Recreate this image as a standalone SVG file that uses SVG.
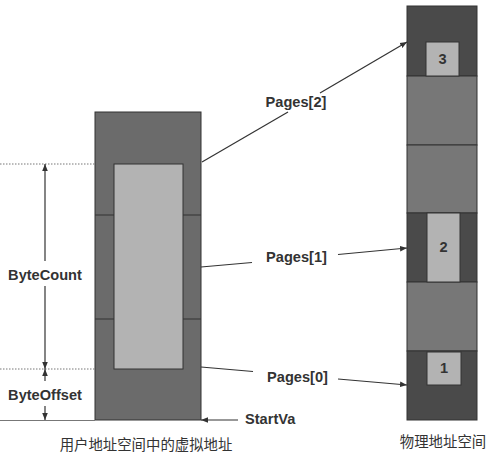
<svg xmlns="http://www.w3.org/2000/svg" width="497" height="460" viewBox="0 0 497 460">
<defs>
<marker id="ah" viewBox="0 0 10 10" refX="10" refY="5" markerWidth="7" markerHeight="7" orient="auto-start-reverse" markerUnits="userSpaceOnUse">
<path d="M0,1 L10,5 L0,9 Z" fill="#333"/>
</marker>
<style>
.lbl{font-family:"Liberation Sans",Arial,sans-serif;font-weight:bold;font-size:14.6px;fill:#333}
.cap{font-family:"Noto Sans CJK SC","Liberation Sans",sans-serif;font-size:14.4px;fill:#333}
.ln{stroke:#333;stroke-width:1.2;fill:none}
.dark{fill:#4a4a4a;stroke:#333;stroke-width:1}
.mid{fill:#777;stroke:#333;stroke-width:1}
.light{fill:#b3b3b3;stroke:#333;stroke-width:1}
.guide{stroke:#777;stroke-width:1;stroke-dasharray:1.5,1.5;fill:none}
</style>
</defs>
<rect width="497" height="460" fill="#fff"/>
<g id="virtual">
<rect x="95" y="112" width="106" height="308" fill="#6b6b6b" stroke="#333" stroke-width="1"/>
<line x1="95" y1="215" x2="201" y2="215" stroke="#333" stroke-width="1"/>
<line x1="95" y1="319" x2="201" y2="319" stroke="#333" stroke-width="1"/>
<rect x="114" y="164" width="69" height="205" class="light"/>
<text class="cap" x="146" y="450" text-anchor="middle">用户地址空间中的虚拟地址</text>
</g>
<g id="physical">
<rect x="407" y="6" width="70" height="70" class="dark"/>
<rect x="407" y="76" width="70" height="69" class="mid"/>
<rect x="407" y="145" width="70" height="68" class="mid"/>
<rect x="407" y="213" width="70" height="69" class="dark"/>
<rect x="407" y="282" width="70" height="69" class="mid"/>
<rect x="407" y="351" width="70" height="69" class="dark"/>
<text class="cap" x="443" y="447" text-anchor="middle">物理地址空间</text>
</g>
<g id="page3">
<rect x="426" y="42" width="33" height="34" class="light"/>
<text class="lbl" x="442.5" y="64" text-anchor="middle">3</text>
</g>
<g id="page2">
<rect x="427" y="213" width="33" height="69" class="light"/>
<text class="lbl" x="443.5" y="252" text-anchor="middle">2</text>
</g>
<g id="page1">
<rect x="427" y="352" width="34" height="33" class="light"/>
<text class="lbl" x="444" y="373" text-anchor="middle">1</text>
</g>
<g id="dimensions">
<line class="guide" x1="0" y1="164" x2="95" y2="164"/>
<line class="guide" x1="0" y1="369" x2="95" y2="369"/>
<line x1="0" y1="420.5" x2="95" y2="420.5" stroke="#777" stroke-width="1"/>
<line class="ln" x1="45" y1="261" x2="45" y2="164" marker-end="url(#ah)"/>
<line class="ln" x1="45" y1="286" x2="45" y2="369" marker-end="url(#ah)"/>
<line class="ln" x1="45" y1="381" x2="45" y2="369" marker-end="url(#ah)"/>
<line class="ln" x1="45" y1="406" x2="45" y2="420" marker-end="url(#ah)"/>
<text class="lbl" x="45" y="280" text-anchor="middle">ByteCount</text>
<text class="lbl" x="45" y="400" text-anchor="middle">ByteOffset</text>
<text class="lbl" x="245" y="424">StartVa</text>
</g>
<g id="connectors">
<line class="ln" x1="238" y1="420" x2="201" y2="420" marker-end="url(#ah)"/>
<line class="ln" x1="202" y1="162" x2="288" y2="112"/>
<line class="ln" x1="320" y1="93" x2="407" y2="42" marker-end="url(#ah)"/>
<line class="ln" x1="201" y1="267" x2="252" y2="262.5"/>
<line class="ln" x1="338" y1="254.5" x2="407" y2="248" marker-end="url(#ah)"/>
<line class="ln" x1="201" y1="367" x2="253" y2="371.5"/>
<line class="ln" x1="338" y1="379" x2="407" y2="385" marker-end="url(#ah)"/>
<text class="lbl" x="296" y="107" text-anchor="middle">Pages[2]</text>
<text class="lbl" x="296.5" y="262" text-anchor="middle">Pages[1]</text>
<text class="lbl" x="297.5" y="382" text-anchor="middle">Pages[0]</text>
</g>
</svg>
